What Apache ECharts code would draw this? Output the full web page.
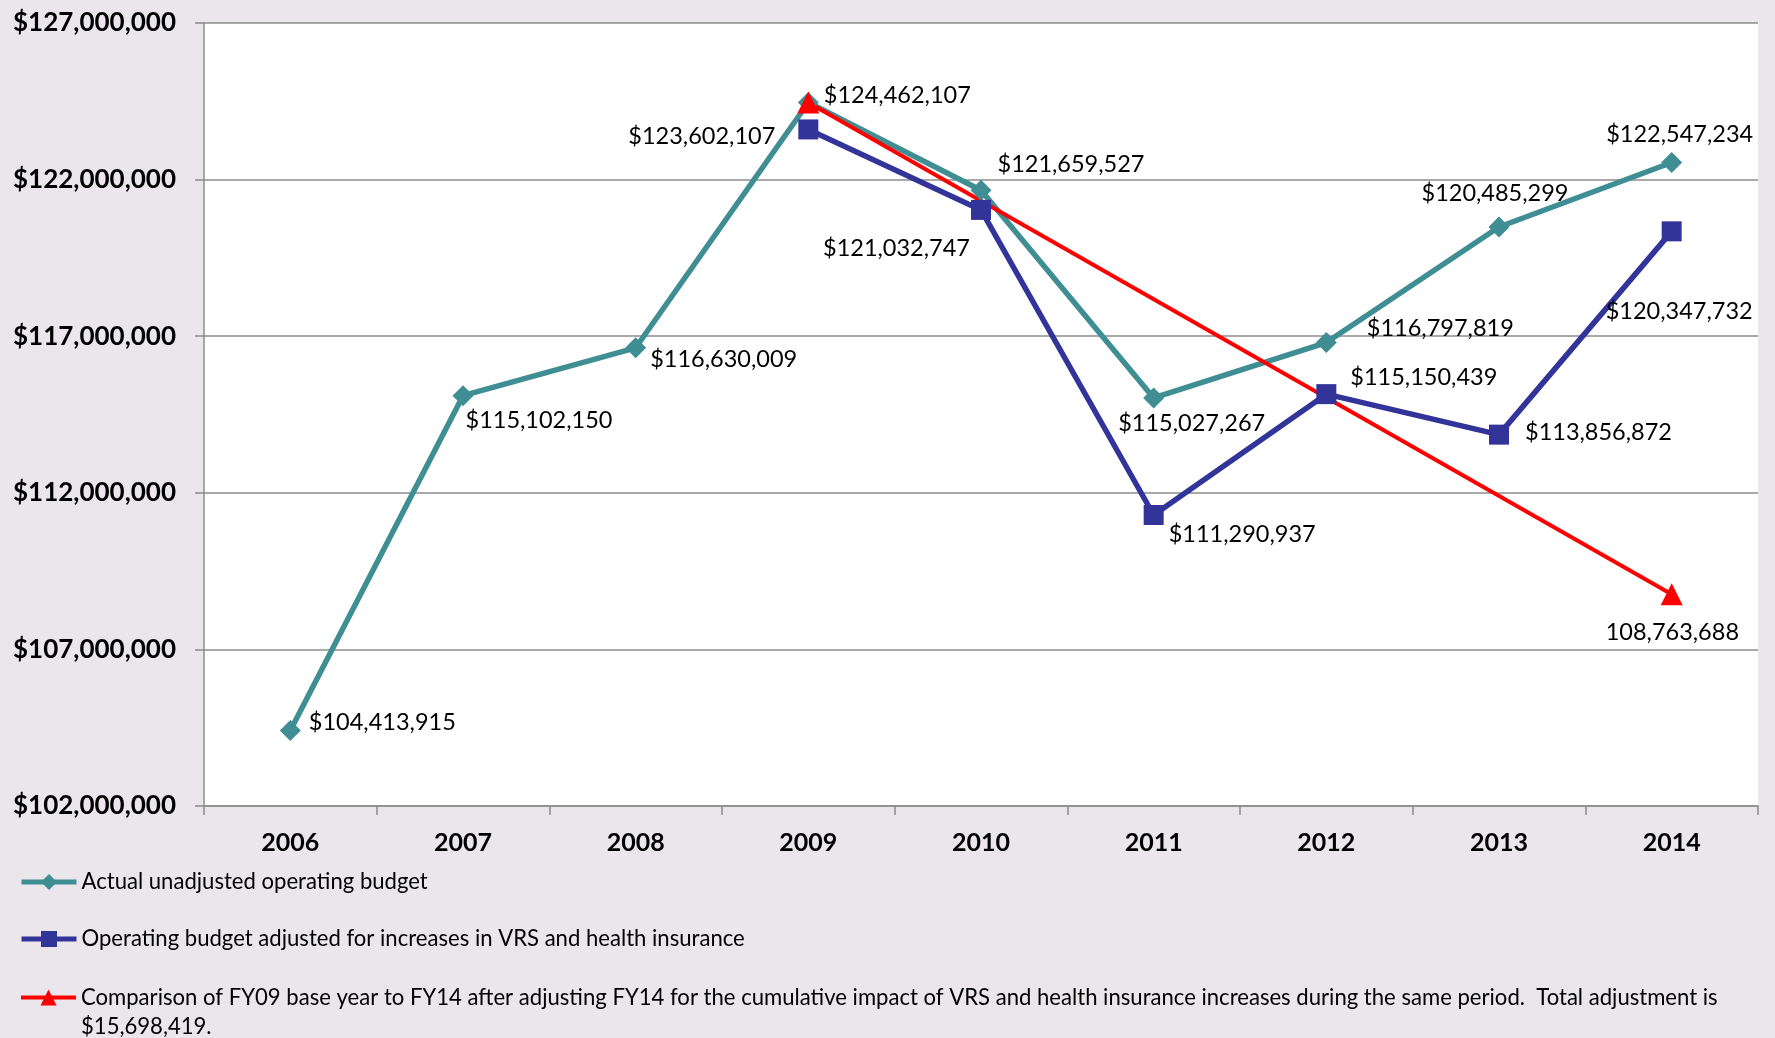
<!DOCTYPE html>
<html>
<head>
<meta charset="utf-8">
<title>Operating budget</title>
<script src="https://cdn.jsdelivr.net/npm/echarts@6/dist/echarts.min.js"></script>
<style>
	html, body { margin: 0; padding: 0; background: #EAE6EB; }
	#budget_chart { width: 1775px; height: 1038px; }
</style>
</head>
<body>
<div id="budget_chart"></div>
<script>
	// chart data
	var years = ['2006', '2007', '2008', '2009', '2010', '2011', '2012', '2013', '2014'];
	var actualBudget = [104413915, 115102150, 116630009, 124462107, 121659527, 115027267, 116797819, 120485299, 122547234];
	var adjustedBudget = [null, null, null, 123602107, 121032747, 111290937, 115150439, 113856872, 120347732];
	var fy09Comparison = [null, null, null, 124462107, null, null, null, null, 108763688];
	var yMin = 102000000, yMax = 127000000, yStep = 5000000;
	var seriesNames = [
		'Actual unadjusted operating budget',
		'Operating budget adjusted for increases in VRS and health insurance',
		'Comparison of FY09 base year to FY14 after adjusting FY14 for the cumulative impact of VRS and health insurance increases during the same period.  Total adjustment is $15,698,419.'
	];

	// where each value label sits, relative to the marker (layout only)
	var actualLabelOffset = [[3, -8], [-13, 25], [-1, 12], [0, -7], [1, -26], [-51, 25], [25, -14], [-93, -34], [-81, -28]];
	var adjustedLabelOffset = [null, null, null, [-195, 7], [-173, 39], [0, 19], [9, -17], [11, -2], [-81, 80]];
	var comparisonLabelOffset = [null, null, null, null, null, null, null, null, [-82, 38]];

	var FONT = 'Lato, "Open Sans", sans-serif';

	function commas(v) {
		return String(v).replace(/\B(?=(\d{3})+(?!\d))/g, ',');
	}
	function money(v) {
		return '$' + commas(v);
	}

	function buildData(values, offsets) {
		var out = [];
		for (var i = 0; i < values.length; i++) {
			if (values[i] == null) {
				out.push(null);
				continue;
			}
			var item = { value: values[i] };
			if (offsets[i]) {
				item.label = { show: true, offset: offsets[i] };
			} else {
				item.label = { show: false };
			}
			out.push(item);
		}
		return out;
	}

	function makeSeries(name, values, offsets, color, symbol, size, width, prefix) {
		return {
			name: name,
			type: 'line',
			data: buildData(values, offsets),
			connectNulls: true,
			symbol: symbol,
			symbolSize: size,
			showAllSymbol: true,
			itemStyle: { color: color },
			lineStyle: { color: color, width: width },
			label: {
				show: true,
				position: 'right',
				color: '#000',
				fontFamily: FONT,
				fontSize: 23.5,
				formatter: function (p) {
					return prefix + commas(p.value);
				}
			},
			emphasis: { disabled: true },
			animation: false
		};
	}

	function legendFor(name, top, lineW, wrap) {
		var lg = {
			data: [name],
			left: 14,
			top: top,
			orient: 'vertical',
			itemWidth: 55,
			itemHeight: 20,
			selectedMode: false,
			lineStyle: { width: lineW },
			textStyle: { fontFamily: FONT, fontSize: 22.1, color: '#000', lineHeight: 26 }
		};
		if (wrap) {
			// empty first line so the icon lines up with the first text row
			lg.formatter = function (n) { return '\n' + n.replace(' $15', '\n$15'); };
			lg.textStyle.lineHeight = 29;
		}
		return lg;
	}

	var chart = echarts.init(document.getElementById('budget_chart'));
	var option = {
		backgroundColor: '#EAE6EB',
		animation: false,
		grid: {
			left: 204,
			right: 17,
			top: 23,
			bottom: 232,
			show: true,
			backgroundColor: '#FFFFFF',
			borderWidth: 0
		},
		legend: [
			legendFor(seriesNames[0], 864, 5),
			legendFor(seriesNames[1], 921, 5),
			legendFor(seriesNames[2], 949, 4, true)
		],
		xAxis: {
			type: 'category',
			data: years,
			boundaryGap: true,
			axisLine: { lineStyle: { color: '#8C8C8C', width: 1.5 } },
			axisTick: { show: true, length: 9, lineStyle: { color: '#8C8C8C', width: 1.5 } },
			axisLabel: { color: '#000', fontFamily: FONT, fontWeight: 'bold', fontSize: 25, margin: 24 }
		},
		yAxis: {
			type: 'value',
			min: yMin,
			max: yMax,
			interval: yStep,
			axisLine: { show: true, lineStyle: { color: '#8C8C8C', width: 1.5 } },
			axisTick: { show: true, length: 9, lineStyle: { color: '#8C8C8C', width: 1.5 } },
			splitLine: { lineStyle: { color: '#8C8C8C', width: 1.5 } },
			axisLabel: {
				color: '#000', fontFamily: FONT, fontWeight: 'bold', fontSize: 26, margin: 28,
				formatter: money
			}
		},
		series: [
			makeSeries(seriesNames[0], actualBudget, actualLabelOffset, '#3F8E94', 'diamond', 21, 5.5, '$'),
			makeSeries(seriesNames[1], adjustedBudget, adjustedLabelOffset, '#32349A', 'rect', 20, 5.5, '$'),
			makeSeries(seriesNames[2], fy09Comparison, comparisonLabelOffset, '#FF0000', 'triangle', 22, 4, '')
		]
	};
	chart.setOption(option);
</script>
</body>
</html>
